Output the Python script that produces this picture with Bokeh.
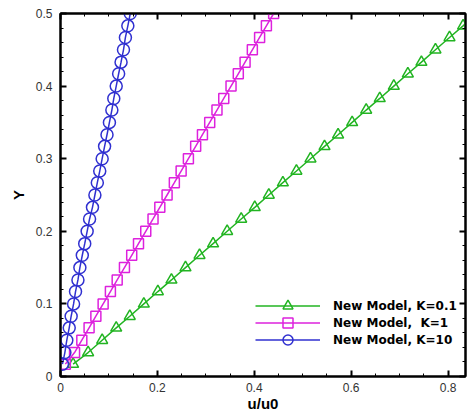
from bokeh.plotting import figure
from bokeh.models import Range1d, LinearAxis, Legend, LegendItem, FixedTicker, CustomLabelingPolicy
from bokeh.embed import file_html
from bokeh.resources import INLINE

# Y positions of the markers (shared by all series)
y_vals = [0.017, 0.033, 0.050, 0.067, 0.083, 0.100, 0.117, 0.133, 0.150, 0.167,
          0.183, 0.200, 0.217, 0.233, 0.250, 0.267, 0.283, 0.300, 0.317, 0.333,
          0.350, 0.367, 0.383, 0.400, 0.417, 0.433, 0.450, 0.467, 0.483, 0.500]

# u/u0 values
u_k01 = [0.026, 0.057, 0.086, 0.115, 0.143, 0.172, 0.201, 0.229, 0.258, 0.287,
         0.315, 0.344, 0.373, 0.401, 0.430, 0.459, 0.487, 0.516, 0.545, 0.573,
         0.602, 0.631, 0.659, 0.688, 0.717, 0.745, 0.774, 0.803, 0.831, 0.860]
u_k1 = [0.010, 0.029, 0.044, 0.059, 0.073, 0.088, 0.103, 0.117, 0.132, 0.147,
        0.161, 0.176, 0.191, 0.205, 0.220, 0.235, 0.249, 0.264, 0.279, 0.293,
        0.308, 0.323, 0.337, 0.352, 0.367, 0.381, 0.396, 0.411, 0.425, 0.440]
u_k10 = [0.004, 0.009, 0.013, 0.018, 0.022, 0.027, 0.031, 0.036, 0.040, 0.045,
         0.050, 0.055, 0.060, 0.066, 0.071, 0.076, 0.081, 0.086, 0.091, 0.096,
         0.101, 0.106, 0.110, 0.115, 0.120, 0.125, 0.130, 0.134, 0.139, 0.144]

labels = ["New Model, K=0.1", "New Model,  K=1", "New Model, K=10"]
x_ticks = [0, 0.2, 0.4, 0.6, 0.8]
x_minor = [0.05, 0.1, 0.15, 0.25, 0.3, 0.35, 0.45, 0.5, 0.55, 0.65, 0.7, 0.75, 0.85]
y_ticks = [0, 0.1, 0.2, 0.3, 0.4, 0.5]
y_minor = [0.02, 0.04, 0.06, 0.08, 0.12, 0.14, 0.16, 0.18, 0.22, 0.24, 0.26, 0.28,
           0.32, 0.34, 0.36, 0.38, 0.42, 0.44, 0.46, 0.48]

GREEN = "#22b422"
MAGENTA = "#dd22dd"
BLUE = "#3030d0"

p = figure(width=469, height=414, x_range=Range1d(0, 0.836), y_range=Range1d(0, 0.5),
           output_backend="svg", toolbar_location=None,
           min_border_left=60, min_border_right=2, min_border_top=13, min_border_bottom=36)
p.grid.visible = False
p.outline_line_color = "black"
p.outline_line_width = 2
p.background_fill_color = "white"
p.border_fill_color = "white"

p.xaxis.ticker = FixedTicker(ticks=x_ticks, minor_ticks=x_minor)
p.yaxis.ticker = FixedTicker(ticks=y_ticks, minor_ticks=y_minor)

def style_axis(ax):
    ax.axis_line_width = 2
    ax.axis_line_color = "black"
    ax.major_tick_in = 6
    ax.major_tick_out = 0
    ax.minor_tick_in = 3
    ax.minor_tick_out = 0
    ax.major_tick_line_width = 2
    ax.minor_tick_line_width = 1
    ax.major_label_text_font = "Liberation Sans"
    ax.major_label_text_font_size = "12px"
    ax.major_label_text_color = "#333333"
    ax.axis_label_text_font = "Liberation Sans"
    ax.axis_label_text_font_size = "15px"
    ax.axis_label_text_font_style = "bold"
    ax.axis_label_text_color = "black"

for ax in p.xaxis + p.yaxis:
    style_axis(ax)
p.xaxis.axis_label = "u/u0"
p.yaxis.axis_label = "Y"
p.xaxis.major_label_standoff = 6
p.xaxis.axis_label_standoff = 0
p.yaxis.major_label_standoff = 8
p.yaxis.axis_label_standoff = 6

hide = CustomLabelingPolicy(code="return false")
top = LinearAxis(ticker=FixedTicker(ticks=x_ticks, minor_ticks=x_minor))
right = LinearAxis(ticker=FixedTicker(ticks=y_ticks, minor_ticks=y_minor))
for ax in (top, right):
    style_axis(ax)
    ax.major_label_standoff = 0
    ax.major_label_text_font_size = "1px"
    ax.major_label_policy = hide
p.add_layout(top, "above")
p.add_layout(right, "right")

series = [(u_k01, GREEN, "triangle", 11), (u_k1, MAGENTA, "square", 10), (u_k10, BLUE, "circle", 12)]
legend_offsets = [58, 41, 24]
for (u, col, mk, sz), lab, off in zip(series, labels, legend_offsets):
    ln = p.line(u, y_vals, line_color=col, line_width=1.5)
    sc = p.scatter(u, y_vals, marker=mk, size=sz, line_color=col, line_width=1.5, fill_alpha=0)
    leg = Legend(items=[LegendItem(label=lab, renderers=[ln, sc])], location=(195, off))
    leg.padding = 0
    leg.margin = 0
    leg.spacing = 0
    leg.glyph_width = 65
    leg.glyph_height = 25
    leg.label_height = 14
    leg.label_standoff = 13
    leg.label_text_font = "DejaVu Sans"
    leg.label_text_font_size = "12px"
    leg.label_text_font_style = "bold"
    leg.label_text_color = "black"
    leg.border_line_alpha = 0
    leg.background_fill_alpha = 0
    p.add_layout(leg, "center")

open("out.html", "w").write(file_html(p, INLINE))
